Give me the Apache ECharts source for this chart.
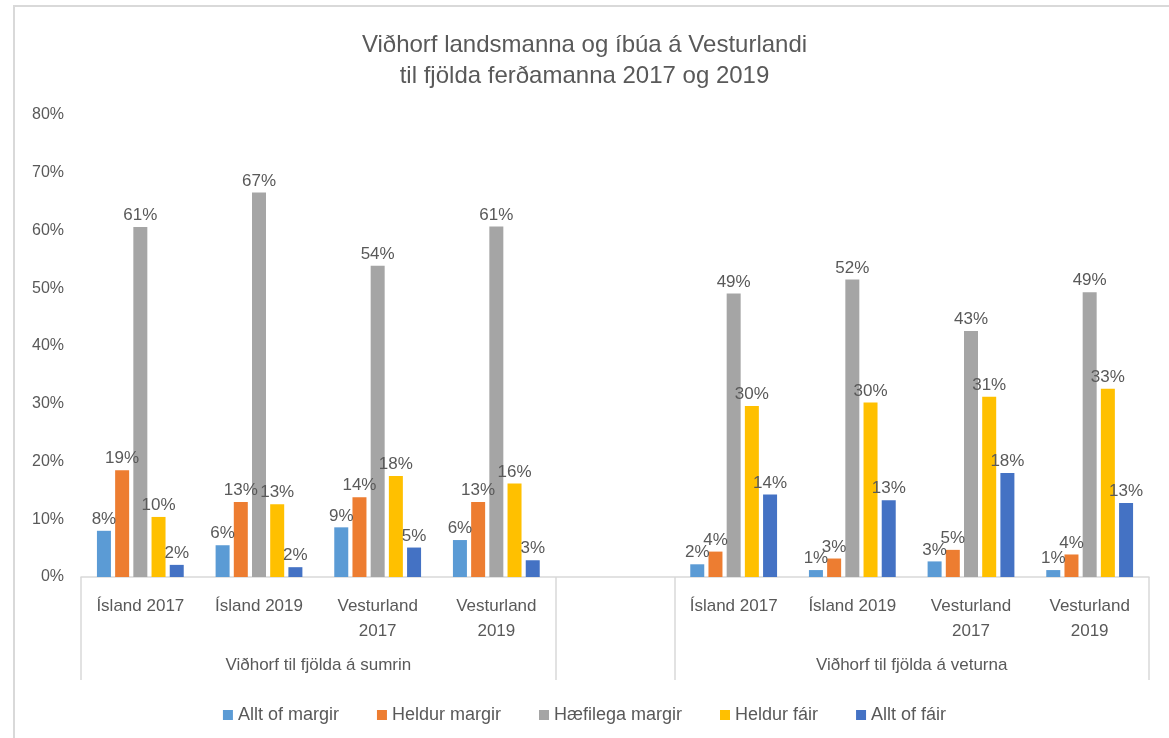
<!DOCTYPE html>
<html>
<head>
<meta charset="utf-8">
<script src="https://cdn.jsdelivr.net/npm/echarts@6/dist/echarts.min.js"></script>
<style>
  html, body { margin: 0; padding: 0; background: #fff; }
  /* ramminn utan um grafið */
  #frame { position: absolute; left: 13px; top: 5px; width: 1200px; height: 800px;
           border-left: 2px solid #d9d9d9; border-top: 2px solid #d9d9d9; }
  #chart { position: absolute; left: 0; top: 0; width: 1169px; height: 738px; }
</style>
</head>
<body>
<div id="frame"></div>
<div id="chart"></div>
<script>
// flokkar á x-ás (tómur flokkur á milli sumars og veturs)
const categories = ["Ísland 2017", "Ísland 2019", "Vesturland\n2017", "Vesturland\n2019", "",
                    "Ísland 2017", "Ísland 2019", "Vesturland\n2017", "Vesturland\n2019"];
const groupLabels = ["Viðhorf til fjölda á sumrin", "Viðhorf til fjölda á veturna"];
const seriesNames = ["Allt of margir", "Heldur margir", "Hæfilega margir", "Heldur fáir", "Allt of fáir"];

// gildi í %
const alltOfMargir    = [8.0, 5.5, 8.6, 6.4, null, 2.2, 1.2, 2.7, 1.2];
const heldurMargir    = [18.5, 13.0, 13.8, 13.0, null, 4.4, 3.2, 4.7, 3.9];
const haefilegaMargir = [60.6, 66.6, 53.9, 60.7, null, 49.1, 51.5, 42.6, 49.3];
const heldurFair      = [10.4, 12.6, 17.5, 16.2, null, 29.6, 30.2, 31.2, 32.6];
const alltOfFair      = [2.1, 1.7, 5.1, 2.9, null, 14.3, 13.3, 18.0, 12.8];

const colors = ["#5b9bd5", "#ed7d31", "#a5a5a5", "#ffc000", "#4472c4"];
const textColor = "#595959";
const font = "Liberation Sans";

var myChart = echarts.init(document.getElementById("chart"), null, { renderer: "canvas" });

const allData = [alltOfMargir, heldurMargir, haefilegaMargir, heldurFair, alltOfFair];

let option = {
  color: colors,
  textStyle: { fontFamily: font, color: textColor },
  title: {
    text: "Viðhorf landsmanna og íbúa á Vesturlandi\ntil fjölda ferðamanna 2017 og 2019",
    left: "center",
    top: 25,
    textStyle: { fontFamily: font, fontSize: 24, fontWeight: "normal", color: textColor, lineHeight: 31 },
  },
  legend: {
    data: seriesNames,
    top: 701,
    left: "center",
    icon: "rect",
    itemWidth: 10,
    itemHeight: 10,
    itemGap: 38,
    textStyle: { fontFamily: font, fontSize: 18, color: textColor },
  },
  grid: { left: 81, right: 20, top: 115, bottom: 161, containLabel: false },
  xAxis: [
    {
      type: "category",
      data: categories,
      axisLine: { lineStyle: { color: "#d9d9d9", width: 1.5 } },
      axisTick: { show: false },
      axisLabel: { fontFamily: font, fontSize: 17, color: textColor, margin: 17, lineHeight: 25, interval: 0 },
    },
    {
      // neðri stig ássins: hópar og skilalínur
      type: "value",
      min: 0,
      max: 9,
      position: "bottom",
      axisLine: { show: false },
      splitLine: { show: false },
      axisTick: {
        show: true,
        length: 103,
        customValues: [0, 4, 5, 9],
        lineStyle: { color: "#d9d9d9", width: 1.5 },
      },
      axisLabel: {
        customValues: [2, 7],
        margin: 80,
        fontFamily: font,
        fontSize: 17,
        color: textColor,
        formatter: (v) => (v < 4.5 ? groupLabels[0] : groupLabels[1]),
      },
    },
  ],
  yAxis: {
    type: "value",
    min: 0,
    max: 80,
    interval: 10,
    axisLine: { show: false },
    axisTick: { show: false },
    splitLine: { show: false },
    axisLabel: { formatter: "{value}%", fontFamily: font, fontSize: 16, color: textColor, margin: 17 },
  },
  series: seriesNames.map((name, i) => ({
    name: name,
    type: "bar",
    xAxisIndex: 0,
    data: allData[i],
    barWidth: 14,
    barGap: "30%",
    label: {
      show: true,
      position: "top",
      distance: 3,
      fontFamily: font,
      fontSize: 17,
      color: textColor,
      formatter: (p) => Math.round(p.value) + "%",
    },
  })),
};
myChart.setOption(option);
</script>
</body>
</html>
